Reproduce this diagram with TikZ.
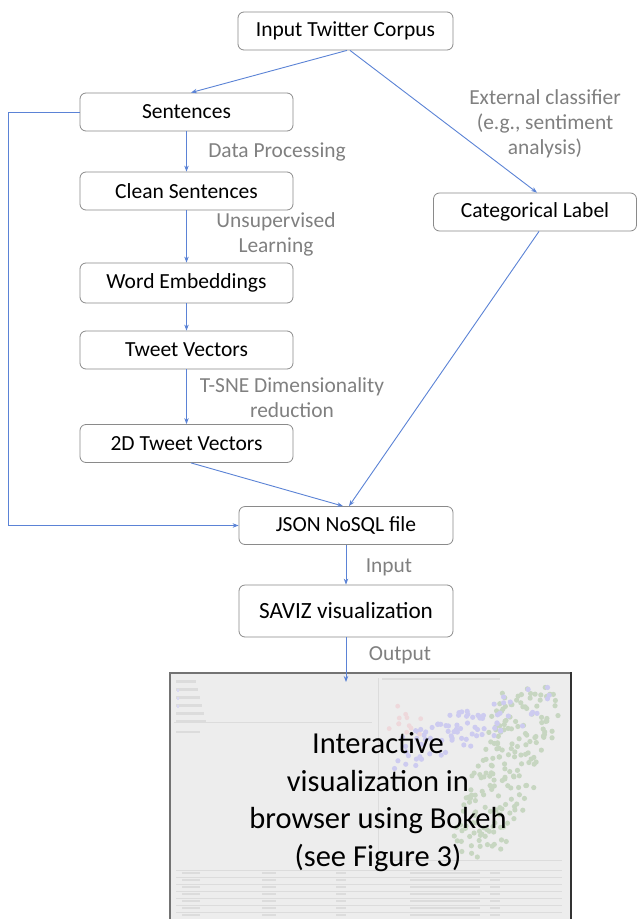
\documentclass[tikz,border=0pt]{standalone}
\usepackage{fontspec}
\setmainfont{Carlito}
\usetikzlibrary{arrows.meta}
\definecolor{flow}{HTML}{5B83D6}
\definecolor{boxline}{HTML}{8A8A8A}
\definecolor{note}{HTML}{808080}
\definecolor{screenbg}{HTML}{EDEDED}
\definecolor{dotpurple}{HTML}{BDBAF2}
\definecolor{dotgreen}{HTML}{B3CBAA}
\definecolor{dotpink}{HTML}{EFCDD2}
\definecolor{faint}{HTML}{D4D4D4}
\tikzset{
  stage/.style={draw=boxline, line width=0.8bp, rounded corners=6bp, fill=white,
    minimum height=38bp, minimum width=213bp, inner sep=0pt,
    font=\fontsize{21.6}{24}\selectfont},
  flowarrow/.style={draw=flow, line width=0.9bp, -{Stealth[length=6bp,width=4.5bp]}},
  notelabel/.style={text=note, align=center, inner sep=0pt,
    font=\fontsize{21.5}{25}\selectfont},
}
\begin{document}
\begin{tikzpicture}[x=1bp, y=-1bp]
  \clip (0,0) rectangle (637,919);
  \fill[white] (0,0) rectangle (637,919);

  % pipeline stages
  \node[stage, minimum width=215bp] (corpus) at (345.5,31) {Input Twitter Corpus};
  \node[stage] (sent)    at (186.5,112)   {Sentences};
  \node[stage] (clean)   at (186.5,191)   {Clean Sentences};
  \node[stage, minimum height=40bp] (word) at (186.5,283) {Word Embeddings};
  \node[stage] (tweet)   at (186.5,350)   {Tweet Vectors};
  \node[stage] (tweet2d) at (186.5,443.5) {2D Tweet Vectors};
  \node[stage, minimum width=203bp] (cat) at (535,212) {Categorical Label};
  \node[stage, minimum width=214bp] (json) at (346,525.5) {JSON NoSQL file};
  \node[stage, minimum width=214bp, minimum height=52bp,
        font=\fontsize{23.3}{26}\selectfont] (saviz) at (346,611) {SAVIZ visualization};

  % step descriptions
  \node[notelabel] (lproc) at (277,152) {Data Processing};
  \node[notelabel] (lunsup) at (276,234) {Unsupervised\\Learning};
  \node[notelabel] (ltsne) at (292,398) {T-SNE Dimensionality\\reduction};
  \node[notelabel] (lext) at (545,124) {External classifier\\(e.g., sentiment\\analysis)};
  \node[notelabel] (lin) at (389,567) {Input};
  \node[notelabel] (lout) at (400,655) {Output};

  % screenshot of the browser view
  \begin{scope}
    \node[draw=black!80, line width=1.6bp, fill=screenbg, minimum width=401bp,
          minimum height=260bp, anchor=north west, inner sep=0pt] (screen) at (169,672) {};
    % left control panel
    \foreach \k in {0,...,5}
      \fill[faint] (176,680+\k*8) rectangle (196+\k*2,682.5+\k*8);
    \foreach \k in {1,...,3}
      \fill[dotpurple!70] (176.5,681+\k*8) rectangle (179,683.5+\k*8);
    \draw[faint, line width=0.5bp] (174,722) -- (372,722);
    \fill[faint] (176,731) rectangle (200,733);
    \draw[faint, line width=0.5bp] (378,678) -- (378,860) -- (562,860);
    \fill[faint] (382,678) rectangle (500,680);
    % scatter points
    \pgfmathsetseed{42}
    \foreach \i in {1,...,200}{
      \pgfmathsetmacro\tt{rnd}
      \pgfmathsetmacro\gx{535-60*\tt+62*(rnd-0.5)}
      \pgfmathsetmacro\gy{692+158*\tt+30*(rnd-0.5)}
      \fill[dotgreen] (\gx,\gy) circle (2.6bp);
    }
    \foreach \i in {1,...,85}{
      \pgfmathsetmacro\tt{rnd}
      \pgfmathsetmacro\px{402+142*\tt+20*(rnd-0.5)}
      \pgfmathsetmacro\py{755-60*\tt+40*(rnd-0.5)}
      \fill[dotpurple] (\px,\py) circle (2.6bp);
    }
    \foreach \i in {1,...,12}{
      \pgfmathsetmacro\px{385+50*rnd}
      \pgfmathsetmacro\py{705+30*rnd}
      \fill[dotpink] (\px,\py) circle (2.4bp);
    }
    % data table rows
    \foreach \k in {0,...,7}{
      \draw[faint, line width=0.4bp] (176,870+\k*7) -- (562,870+\k*7);
      \fill[faint] (182,872+\k*7) rectangle (200,873.5+\k*7);
      \fill[faint] (262,872+\k*7) rectangle (276,873.5+\k*7);
      \fill[faint] (336,872+\k*7) rectangle (346,873.5+\k*7);
      \fill[faint] (410,872+\k*7) rectangle (480,873.5+\k*7);
      \fill[faint] (490,872+\k*7) rectangle (500,873.5+\k*7);
    }
    \fill[screenbg, opacity=0.35] (169,672) rectangle (570,925);
    \node[align=center, inner sep=0pt, font=\fontsize{30.6}{38}\selectfont]
      (screentext) at (378,802) {Interactive\\visualization in\\browser using Bokeh\\(see Figure 3)};
  \end{scope}

  % connectors
  \draw[flowarrow] ([xshift=1.5bp]corpus.south) -- ([xshift=4.5bp]sent.north);
  \draw[flowarrow] ([xshift=4.5bp]corpus.south) -- ([xshift=2bp]cat.north);
  \draw[flowarrow] (sent) -- (clean);
  \draw[flowarrow] (clean) -- (word);
  \draw[flowarrow] (word) -- (tweet);
  \draw[flowarrow] (tweet) -- (tweet2d);
  \draw[flowarrow] ([xshift=4.5bp]tweet2d.south) -- ([xshift=-3bp]json.north);
  \draw[flowarrow] ([xshift=4bp]cat.south) -- ([xshift=3bp]json.north);
  \coordinate (loop) at (8,112);
  \draw[flowarrow] (sent.west) -- (loop) |- (json.west);
  \draw[flowarrow] (json) -- (saviz);
  \draw[flowarrow] (saviz.south) -- ([yshift=-10bp]screen.north -| saviz.south);
\end{tikzpicture}
\end{document}
